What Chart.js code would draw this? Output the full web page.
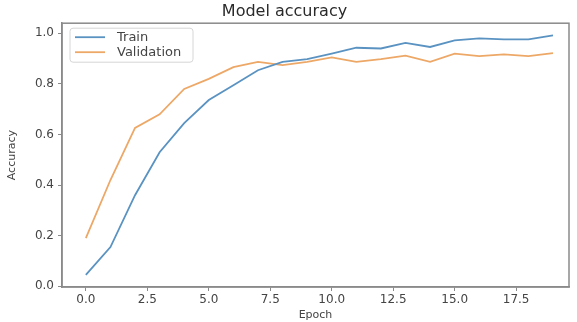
<!DOCTYPE html>
<html>
<head>
<meta charset="utf-8">
<script src="https://cdn.jsdelivr.net/npm/chart.js@4.4.1/dist/chart.umd.min.js"></script>
<style>
    html, body { margin: 0; padding: 0; background: #fff; }
    #wrap { width: 577px; height: 322px; position: relative; }
</style>
</head>
<body>
<div id="wrap"><canvas id="acc-chart"></canvas></div>
<script>
// 每个 epoch 的准确率
const epochs = [0, 1, 2, 3, 4, 5, 6, 7, 8, 9, 10, 11, 12, 13, 14, 15, 16, 17, 18, 19];
const trainAcc = [0.045, 0.155, 0.36, 0.53, 0.645, 0.736, 0.795, 0.854, 0.887, 0.898,
                  0.92, 0.943, 0.94, 0.962, 0.946, 0.972, 0.98, 0.976, 0.976, 0.992];
const valAcc = [0.19, 0.42, 0.626, 0.68, 0.78, 0.82, 0.866, 0.887, 0.874, 0.887,
                0.905, 0.887, 0.898, 0.912, 0.887, 0.92, 0.91, 0.917, 0.91, 0.922];
const xTicks = [0, 2.5, 5, 7.5, 10, 12.5, 15, 17.5];
const yTicks = [0, 0.2, 0.4, 0.6, 0.8, 1.0];

const FONT = 'DejaVu Sans';
const AXIS_COLOR = '#8a8a8a';
const TEXT_COLOR = '#444';

// 画坐标框和左上角图例
const framePlugin = {
    id: 'frame',
    afterDraw(chart) {
        const { ctx, chartArea: a } = chart;
        ctx.save();
        ctx.strokeStyle = AXIS_COLOR;
        ctx.lineWidth = 1.5;
        ctx.strokeRect(a.left, a.top, a.right - a.left, a.bottom - a.top);

        // 图例
        const bx = a.left + 8, by = a.top + 5, bw = 123, bh = 34;
        ctx.fillStyle = 'rgba(255,255,255,0.85)';
        ctx.strokeStyle = '#d6d6d6';
        ctx.lineWidth = 1;
        ctx.beginPath();
        ctx.roundRect(bx, by, bw, bh, 3);
        ctx.fill();
        ctx.stroke();
        ctx.font = '13px ' + FONT;
        ctx.textBaseline = 'middle';
        chart.data.datasets.forEach((ds, i) => {
            const y = by + 9 + i * 15;
            ctx.strokeStyle = ds.borderColor;
            ctx.lineWidth = 1.8;
            ctx.beginPath();
            ctx.moveTo(bx + 5, y);
            ctx.lineTo(bx + 35, y);
            ctx.stroke();
            ctx.fillStyle = TEXT_COLOR;
            ctx.fillText(ds.label, bx + 47, y);
        });
        ctx.restore();
    }
};

new Chart(document.getElementById('acc-chart'), {
    type: 'line',
    data: {
        datasets: [
            {
                label: 'Train',
                data: epochs.map((e, i) => ({ x: e, y: trainAcc[i] })),
                borderColor: '#5a93c2',
                borderWidth: 1.8,
                pointRadius: 0,
                tension: 0
            },
            {
                label: 'Validation',
                data: epochs.map((e, i) => ({ x: e, y: valAcc[i] })),
                borderColor: '#eda867',
                borderWidth: 1.8,
                pointRadius: 0,
                tension: 0
            }
        ]
    },
    options: {
        responsive: true,
        maintainAspectRatio: false,
        animation: false,
        layout: { padding: { left: 0, right: 8, top: 0, bottom: 0 } },
        plugins: {
            legend: { display: false },
            tooltip: { enabled: false },
            title: {
                display: true,
                text: 'Model accuracy',
                color: '#2a2a2a',
                font: { family: FONT, size: 16, weight: 'normal' },
                padding: { top: 2, bottom: 2 }
            }
        },
        scales: {
            x: {
                type: 'linear',
                min: -0.97,
                max: 19.65,
                afterBuildTicks: s => { s.ticks = xTicks.map(v => ({ value: v })); },
                afterFit: s => { s.height = 35; },
                ticks: {
                    color: TEXT_COLOR,
                    font: { family: FONT, size: 12 },
                    padding: 2,
                    callback: v => v.toFixed(1)
                },
                grid: { drawOnChartArea: false, drawTicks: true, tickLength: 4, color: AXIS_COLOR },
                border: { display: true, color: AXIS_COLOR, width: 1.5 },
                title: {
                    display: true,
                    text: 'Epoch',
                    color: TEXT_COLOR,
                    font: { family: FONT, size: 11 },
                    padding: { top: 0, bottom: 0 }
                }
            },
            y: {
                min: -0.003,
                max: 1.04,
                afterBuildTicks: s => { s.ticks = yTicks.map(v => ({ value: v })); },
                afterFit: s => { s.width = 62; },
                ticks: {
                    color: TEXT_COLOR,
                    font: { family: FONT, size: 12 },
                    padding: 4,
                    callback: v => v.toFixed(1)
                },
                grid: { drawOnChartArea: false, drawTicks: true, tickLength: 4, color: AXIS_COLOR },
                border: { display: true, color: AXIS_COLOR, width: 1.5 },
                title: {
                    display: true,
                    text: 'Accuracy',
                    color: TEXT_COLOR,
                    font: { family: FONT, size: 11 },
                    padding: { top: 6, bottom: 0 }
                }
            }
        }
    },
    plugins: [framePlugin]
});
</script>
</body>
</html>
